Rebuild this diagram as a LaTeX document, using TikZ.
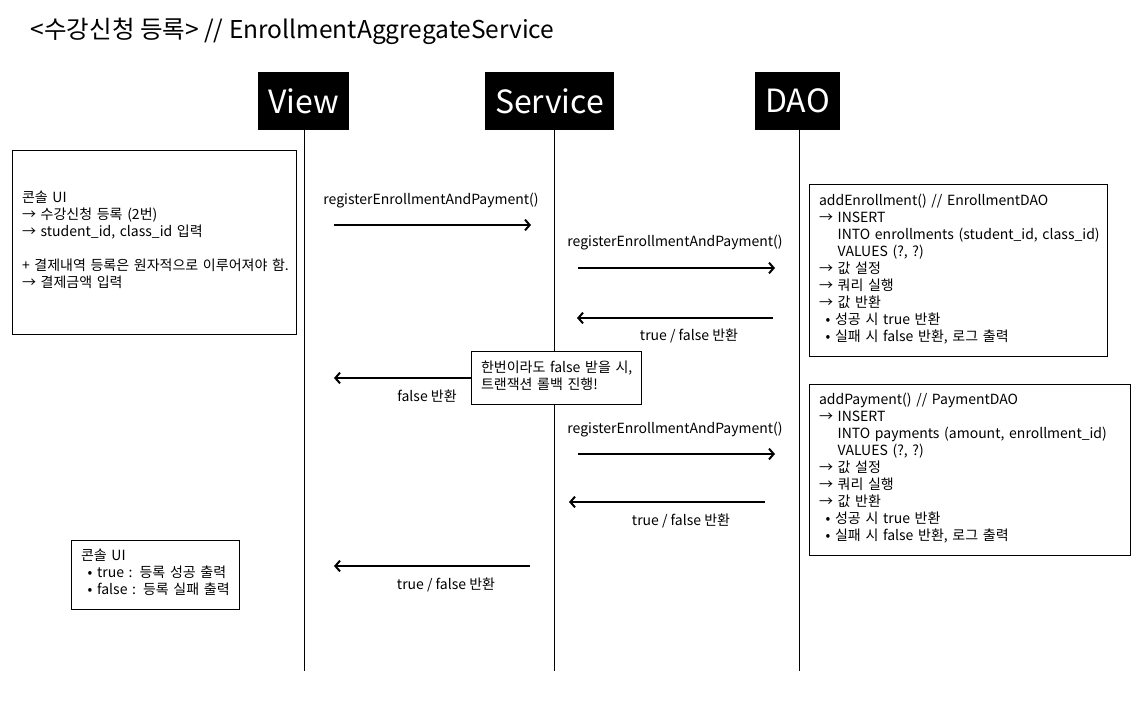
\documentclass[tikz,border=0pt]{standalone}
\usepackage{fontspec}
\setmainfont{Noto Sans CJK KR}
\usetikzlibrary{arrows.meta}

\newcommand\bodyfont{\fontsize{10.5}{12.75}\selectfont}
\newcommand\lines[1]{\begin{tabular}{@{}l@{}}#1\end{tabular}}
\tikzset{
    msg/.style={-{Straight Barb[length=3.5pt,width=8pt]}, line width=1.5pt},
    head/.style={fill=black, text=white, font=\fontsize{24}{28}\selectfont,
        minimum height=43.5pt, inner xsep=7.5pt, inner ysep=0pt},
    memo/.style={draw, line width=0.75pt, fill=white, align=left, inner xsep=7.5pt, font=\bodyfont},
    lbl/.style={font=\bodyfont},
}

\begin{document}
\begin{tikzpicture}[x=0.75pt, y=-0.75pt]
    \useasboundingbox (0,0) rectangle (1146,703);

    % title
    \node[anchor=west, font=\fontsize{18.4}{22}\selectfont] (title) at (26,31) {<수강신청 등록> // EnrollmentAggregateService};

    % heads
    \node[head] (view) at (303.5,101) {View};
    \node[head] (service) at (549.5,101) {Service};
    \node[head] (dao) at (797.5,101) {DAO};

    % lifelines
    \coordinate (viewEnd) at (304,671);
    \coordinate (serviceEnd) at (554,671);
    \coordinate (daoEnd) at (799,671);
    \draw[line width=0.75pt] (view.south -| viewEnd) -- (viewEnd);
    \draw[line width=0.75pt] (service.south -| serviceEnd) -- (serviceEnd);
    \draw[line width=0.75pt] (dao.south -| daoEnd) -- (daoEnd);

    % console input
    \node[memo, text width=198pt, minimum height=138pt] (input) at (154,242) {\lines{콘솔 UI\\
        → 수강신청 등록 (2번)\\
        → student\_id, class\_id 입력\\[12.75pt]
        + 결제내역 등록은 원자적으로 이루어져야 함.\\
        → 결제금액 입력}};

    % enrollment dao
    \node[memo, text width=208.5pt, minimum height=129pt] (enrollDao) at (958,270) {\lines{addEnrollment() // EnrollmentDAO\\
        → INSERT\\
        \hspace*{14pt}INTO enrollments (student\_id, class\_id)\\
        \hspace*{14pt}VALUES (?, ?)\\
        → 값 설정\\
        → 쿼리 실행\\
        → 값 반환\\
        \hspace*{5pt}• 성공 시 true 반환\\
        \hspace*{5pt}• 실패 시 false 반환, 로그 출력}};

    % payment dao
    \node[memo, text width=225.75pt, minimum height=128.25pt] (payDao) at (969.5,469.5) {\lines{addPayment() // PaymentDAO\\
        → INSERT\\
        \hspace*{14pt}INTO payments (amount, enrollment\_id)\\
        \hspace*{14pt}VALUES (?, ?)\\
        → 값 설정\\
        → 쿼리 실행\\
        → 값 반환\\
        \hspace*{5pt}• 성공 시 true 반환\\
        \hspace*{5pt}• 실패 시 false 반환, 로그 출력}};

    % console output
    \node[memo, text width=111pt, minimum height=51.75pt] (output) at (155,574.5) {\lines{콘솔 UI\\
        \hspace*{5pt}• true : 등록 성공 출력\\
        \hspace*{5pt}• false : 등록 실패 출력}};

    % View -> Service
    \coordinate (m1a) at (334,225);
    \coordinate (m1b) at (531,225);
    \draw[msg] (m1a) -- (m1b);
    \node[lbl] (m1) at (431,201) {registerEnrollmentAndPayment()};

    % Service -> EnrollmentDAO
    \coordinate (m2a) at (578,268);
    \coordinate (m2b) at (775,268);
    \draw[msg] (m2a) -- (m2b);
    \node[lbl] (m2) at (675,243) {registerEnrollmentAndPayment()};

    % EnrollmentDAO -> Service
    \coordinate (m3a) at (773,318);
    \coordinate (m3b) at (577,318);
    \draw[msg] (m3a) -- (m3b);
    \node[lbl] (m3) at (689,336) {true / false 반환};

    % rollback note
    \node[memo, text width=112.5pt, minimum height=39.75pt] (rollback) at (556,377.5) {\lines{한번이라도 false 받을 시,\\
        트랜잭션 롤백 진행!}};
    \coordinate (m4b) at (334,378);
    \draw[msg] (rollback.west |- m4b) -- (m4b);
    \node[lbl] (m4) at (427,396) {false 반환};

    % Service -> PaymentDAO
    \coordinate (m5a) at (578,454);
    \coordinate (m5b) at (775,454);
    \draw[msg] (m5a) -- (m5b);
    \node[lbl] (m5) at (675,430) {registerEnrollmentAndPayment()};

    % PaymentDAO -> Service
    \coordinate (m6a) at (765,502);
    \coordinate (m6b) at (569,502);
    \draw[msg] (m6a) -- (m6b);
    \node[lbl] (m6) at (681,521) {true / false 반환};

    % Service -> View
    \coordinate (m7a) at (530,566);
    \coordinate (m7b) at (334,566);
    \draw[msg] (m7a) -- (m7b);
    \node[lbl] (m7) at (446,585) {true / false 반환};
\end{tikzpicture}
\end{document}
